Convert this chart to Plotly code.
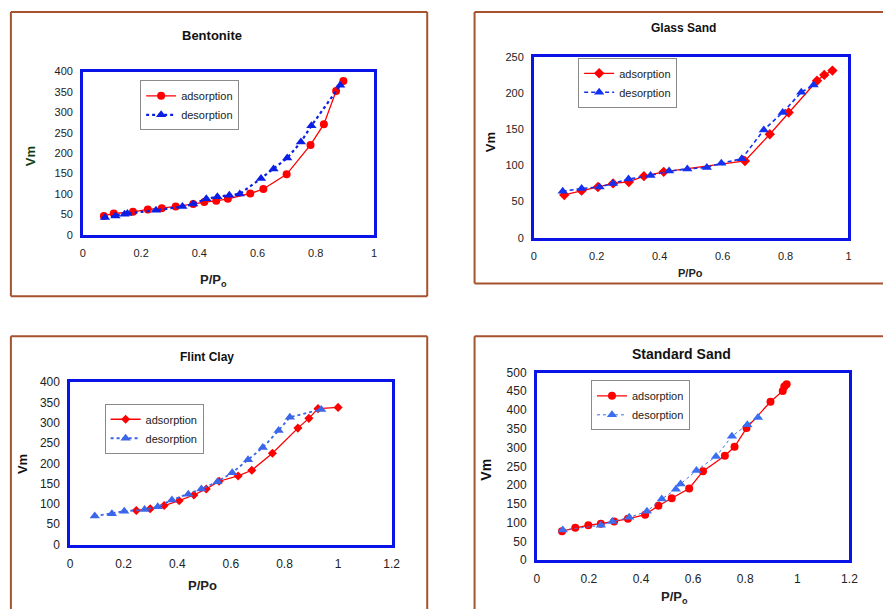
import plotly.graph_objects as go

W, H = 892, 616

# ---------------- data ----------------
bent_ads_x = [0.072, 0.106, 0.172, 0.223, 0.271, 0.319, 0.379, 0.417, 0.458, 0.498, 0.575, 0.62, 0.70, 0.782, 0.828, 0.870, 0.895]
bent_ads_y = [46, 52, 56, 62, 65, 69, 75, 80, 83, 88, 101, 112, 148, 220, 271, 352, 377]
bent_des_x = [0.076, 0.112, 0.143, 0.153, 0.251, 0.342, 0.379, 0.424, 0.462, 0.503, 0.539, 0.612, 0.655, 0.702, 0.749, 0.785, 0.884]
bent_des_y = [42, 46, 50, 52, 60, 69, 75, 88, 93, 97, 100, 138, 161, 188, 227, 267, 366]

glass_ads_x = [0.097, 0.152, 0.204, 0.252, 0.302, 0.35, 0.413, 0.671, 0.75, 0.81, 0.90, 0.923, 0.949]
glass_ads_y = [59, 65, 70, 75, 77, 85, 91, 106, 143, 173, 217, 225, 231]
glass_des_x = [0.092, 0.152, 0.209, 0.252, 0.301, 0.371, 0.43, 0.488, 0.55, 0.596, 0.661, 0.731, 0.791, 0.85, 0.889]
glass_des_y = [64, 68, 70, 75, 81, 86, 92, 95, 97, 103, 109, 149, 173, 201, 211]

flint_ads_x = [0.247, 0.299, 0.351, 0.407, 0.462, 0.508, 0.556, 0.627, 0.678, 0.755, 0.85, 0.891, 0.925, 1.0]
flint_ads_y = [84, 88, 96, 108, 122, 137, 156, 169, 183, 225, 287, 311, 335, 338]
flint_des_x = [0.092, 0.156, 0.202, 0.278, 0.327, 0.38, 0.441, 0.49, 0.55, 0.605, 0.664, 0.719, 0.778, 0.82, 0.937]
flint_des_y = [70, 76, 82, 86, 93, 110, 124, 137, 155, 177, 209, 239, 281, 314, 333]

std_ads_x = [0.097, 0.148, 0.198, 0.246, 0.297, 0.35, 0.416, 0.467, 0.518, 0.585, 0.638, 0.722, 0.759, 0.805, 0.897, 0.944, 0.95, 0.959]
std_ads_y = [77, 86, 93, 97, 103, 110, 121, 145, 165, 191, 237, 278, 302, 352, 422, 451, 463, 469]
std_des_x = [0.1, 0.246, 0.29, 0.355, 0.423, 0.48, 0.534, 0.552, 0.613, 0.688, 0.749, 0.808, 0.849]
std_des_y = [80, 93, 103, 114, 130, 163, 189, 203, 239, 276, 330, 361, 380]

titles = ["Bentonite", "Glass Sand", "Flint Clay", "Standard Sand"]
x_labels = ["P/P<sub>o</sub>", "P/Po", "P/Po", "P/P<sub>o</sub>"]
y_label = "Vm"
series_names = ["adsorption", "desorption"]
x_max = [1, 1, 1.2, 1.2]
y_max = [400, 250, 400, 500]

# ---------------- layout helpers (reference pixel -> paper fraction) ----------------
def px_x(v):
    return v / W

def px_y(v):
    return 1 - v / H

FONT = "Liberation Sans, Arial, sans-serif"
RED = "#ff0000"
BROWN = "#a5532f"
BLUE_FRAME = "#0a14e6"

panels = [
    dict(dom=(81, 376, 66, 233), ads=(bent_ads_x, bent_ads_y), des=(bent_des_x, bent_des_y),
         ads_sym="circle", ads_size=8, des_col="#0a1ee6", des_dash="dot", des_w=2.2, des_size=9,
         tick=11, title=(212, 29, 13), xl=(213, 280, 13), yl=(28, 153, 13, "#0d3d0d"),
         leg=(139, 75, 11)),
    dict(dom=(538, 857, 51, 236), ads=(glass_ads_x, glass_ads_y), des=(glass_des_x, glass_des_y),
         ads_sym="diamond", ads_size=8, des_col="#1430f0", des_dash="4px,3px", des_w=1.6, des_size=9,
         tick=11, title=(690, 22, 12), xl=(697, 272, 11), yl=(495, 138, 13, "#111111"),
         leg=(583, 52, 11)),
    dict(dom=(68, 394, 384, 550), ads=(flint_ads_x, flint_ads_y), des=(flint_des_x, flint_des_y),
         ads_sym="diamond", ads_size=7, des_col="#3b66ea", des_dash="dot", des_w=1.8, des_size=9,
         tick=12, title=(207, 358, 12), xl=(202, 592, 13), yl=(20, 468, 13, "#111111"),
         leg=(103, 406, 11)),
    dict(dom=(541, 858, 374, 566), ads=(std_ads_x, std_ads_y), des=(std_des_x, std_des_y),
         ads_sym="circle", ads_size=8, des_col="#3b6ff0", des_dash="dot", des_w=1.0, des_size=9,
         tick=12, title=(688, 355, 14), xl=(681, 604, 13), yl=(490, 473, 14, "#111111"),
         leg=(596, 382, 11)),
]

fig = go.Figure()
annotations = []
shapes = []
layout = {}

for i, p in enumerate(panels):
    n = i + 1
    xa = "x" if n == 1 else f"x{n}"
    ya = "y" if n == 1 else f"y{n}"
    leg = "legend" if n == 1 else f"legend{n}"
    x0, x1, y0, y1 = p["dom"]
    fig.add_trace(go.Scatter(
        x=p["ads"][0], y=p["ads"][1], name=series_names[0], mode="lines+markers",
        line=dict(color=RED, width=1.3), marker=dict(symbol=p["ads_sym"], size=p["ads_size"], color=RED),
        xaxis=xa, yaxis=ya, legend=leg))
    fig.add_trace(go.Scatter(
        x=p["des"][0], y=p["des"][1], name=series_names[1], mode="lines+markers",
        line=dict(color=p["des_col"], width=p["des_w"], dash=p["des_dash"]),
        marker=dict(symbol="triangle-up", size=p["des_size"], color=p["des_col"]),
        xaxis=xa, yaxis=ya, legend=leg))

    axcommon = dict(showgrid=False, zeroline=False, showline=True, mirror=True,
                    linecolor=BLUE_FRAME, linewidth=2.5, ticks="",
                    tickfont=dict(family=FONT, size=p["tick"], color="#222222"))
    layout["xaxis" if n == 1 else f"xaxis{n}"] = dict(
        domain=[px_x(x0), px_x(x1)], range=[0, x_max[i]], dtick=0.2, tick0=0,
        anchor=ya, ticklabelstandoff=6, **axcommon)
    layout["yaxis" if n == 1 else f"yaxis{n}"] = dict(
        domain=[px_y(y1), px_y(y0)], range=[0, y_max[i]], dtick=50, tick0=0,
        anchor=xa, ticklabelstandoff=5, **axcommon)

    lx, ly, lf = p["leg"]
    layout[leg] = dict(x=px_x(lx), y=px_y(ly), xanchor="left", yanchor="top",
                       bgcolor="white", bordercolor="#8a8a8a", borderwidth=1,
                       font=dict(family=FONT, size=lf, color="#222222"),
                       tracegroupgap=0, itemwidth=30)

    tx, ty, tf = p["title"]
    annotations.append(dict(text=f"<b>{titles[i]}</b>", x=px_x(tx), y=px_y(ty), xref="paper", yref="paper",
                            showarrow=False, xanchor="center", yanchor="middle",
                            font=dict(family=FONT, size=tf, color="#111111")))
    xx, xy, xf = p["xl"]
    annotations.append(dict(text=f"<b>{x_labels[i]}</b>", x=px_x(xx), y=px_y(xy), xref="paper", yref="paper",
                            showarrow=False, xanchor="center", yanchor="middle",
                            font=dict(family=FONT, size=xf, color="#222222")))
    vx, vy, vf, vc = p["yl"]
    annotations.append(dict(text=f"<b>{y_label}</b>", x=px_x(vx), y=px_y(vy), xref="paper", yref="paper",
                            showarrow=False, xanchor="center", yanchor="middle", textangle=-90,
                            font=dict(family=FONT, size=vf, color=vc)))

# brown outer frames (only the sides visible in the reference)
frame_lines = [
    (8, 5, 430, 5), (8, 5, 8, 296), (430, 5, 430, 296), (8, 296, 430, 296),
    (478, 5, 892, 5), (478, 5, 478, 283), (478, 283, 892, 283),
    (8, 337, 430, 337), (8, 337, 8, 616), (430, 337, 430, 616),
    (478, 337, 892, 337), (478, 337, 478, 616),
]
for (a, b, c, d) in frame_lines:
    shapes.append(dict(type="line", xref="paper", yref="paper",
                       x0=px_x(a), y0=px_y(b), x1=px_x(c), y1=px_y(d),
                       line=dict(color=BROWN, width=2)))

fig.update_layout(
    autosize=True, margin=dict(l=0, r=0, t=0, b=0),
    paper_bgcolor="white", plot_bgcolor="white",
    font=dict(family=FONT), annotations=annotations, shapes=shapes,
    **layout)

fig.write_html(
    "out.html",
    config={"displayModeBar": False, "responsive": True},
    default_width="100vw", default_height="100vh",
    post_script="document.body.style.margin='0';document.body.style.padding='0';"
                "document.documentElement.style.overflow='hidden';"
                "document.body.style.overflow='hidden';")
